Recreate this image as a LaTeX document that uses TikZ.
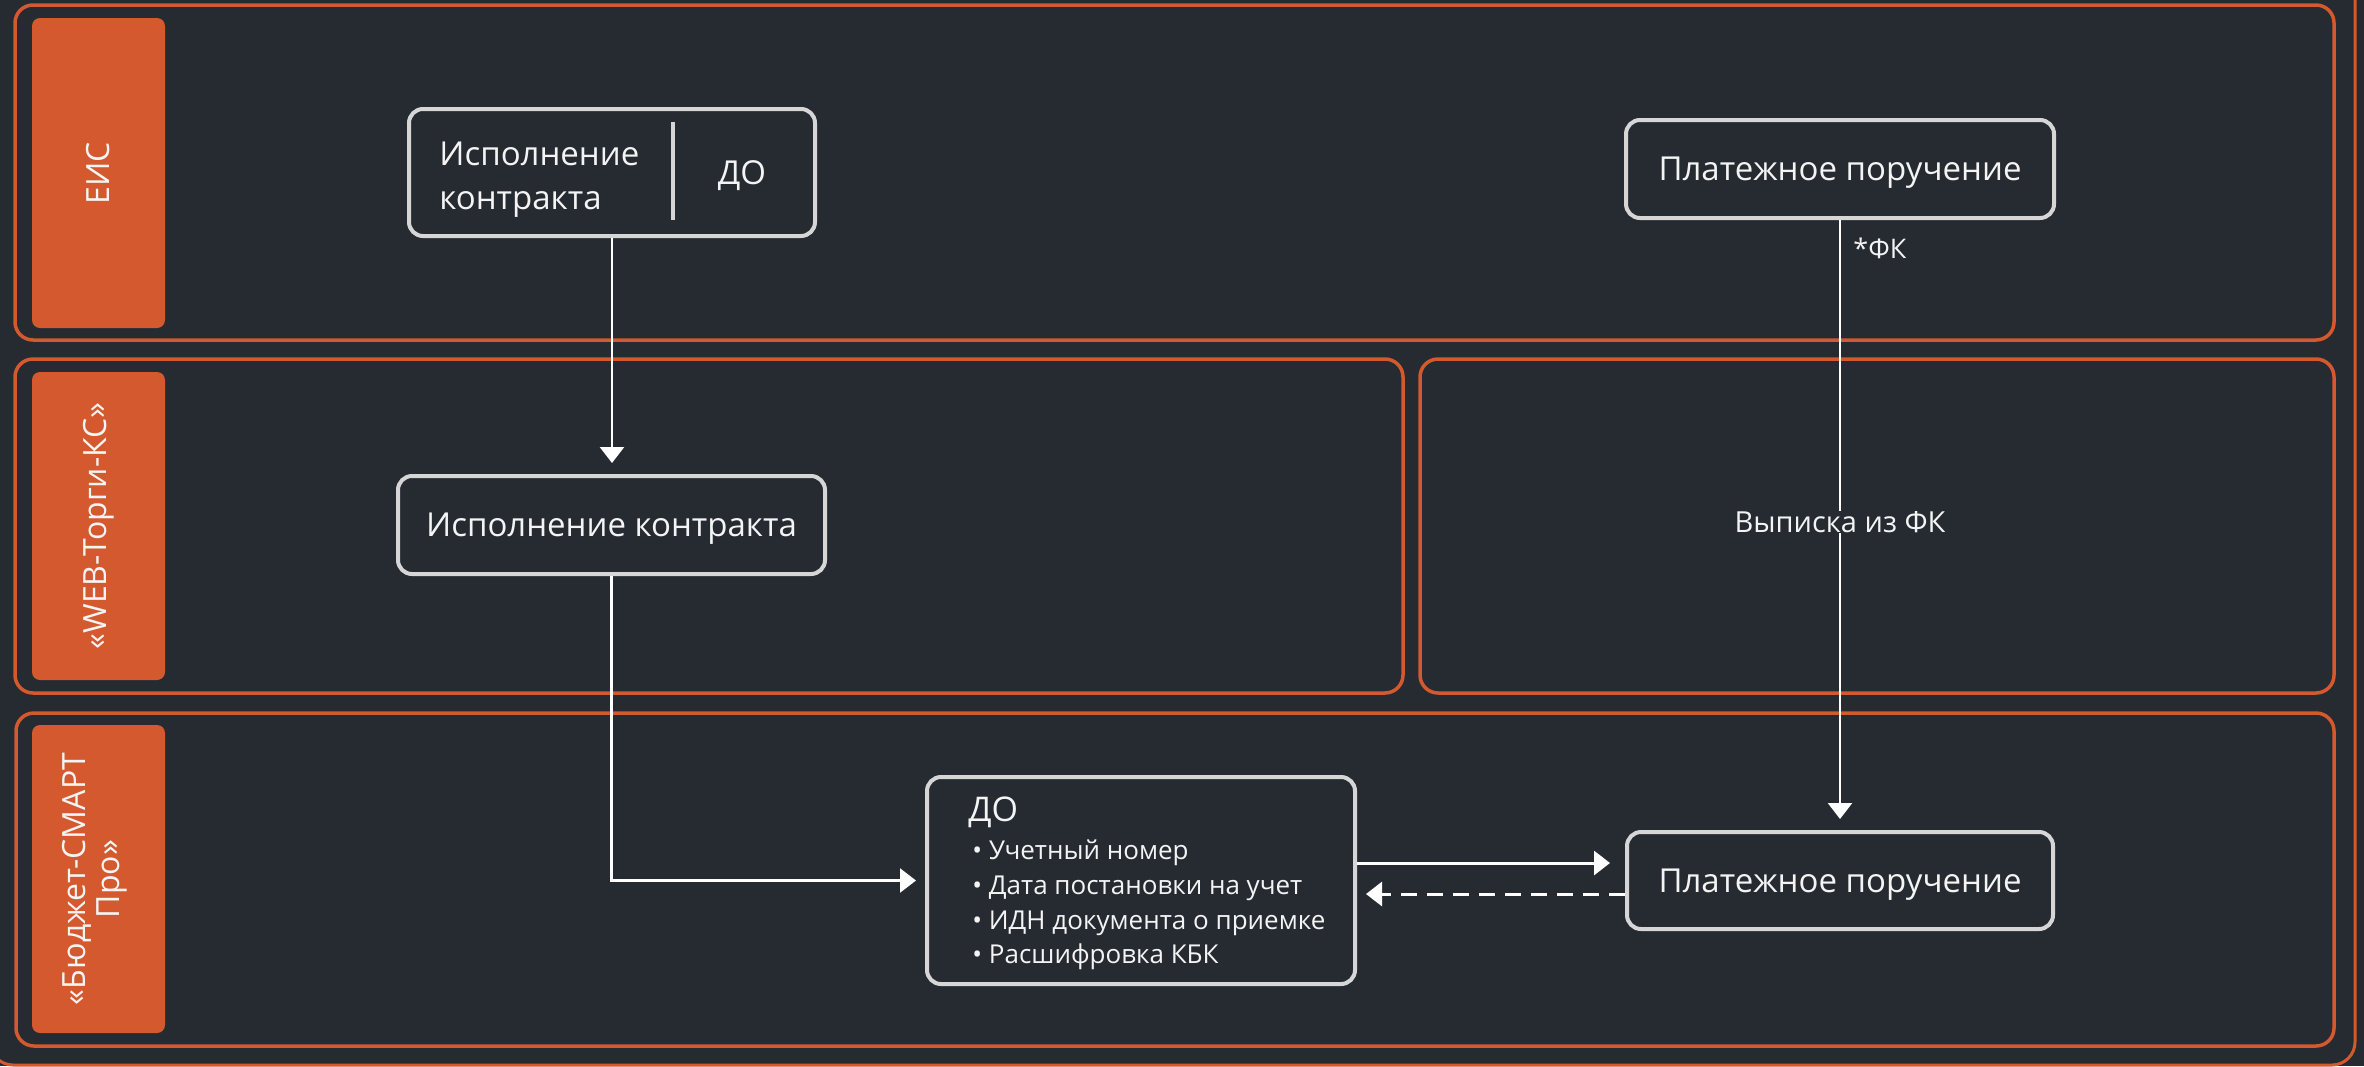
\documentclass[tikz,border=0pt]{standalone}
\usepackage{fontspec}
\setmainfont{Open Sans}
\usetikzlibrary{arrows.meta,calc}
\definecolor{bg}{HTML}{252B31}
\definecolor{org}{HTML}{D4592E}
\definecolor{boxline}{HTML}{D6D6D6}
\definecolor{txt}{HTML}{F4F4F4}
\tikzset{
 lane/.style={draw=org, line width=1.75pt, rounded corners=9pt},
 lanelabel/.style={fill=org, rounded corners=4pt},
 labeltext/.style={text=txt, rotate=90, font=\fontsize{16}{17.25}\selectfont, align=center, inner sep=0pt},
 procbox/.style={draw=boxline, line width=2pt, rounded corners=7pt, text=txt, font=\fontsize{16.5}{22}\selectfont, inner sep=0pt, align=center, text depth=0pt},
 boxtext/.style={text=txt, font=\fontsize{16.5}{22}\selectfont, inner sep=0pt, align=left},
 bullettext/.style={text=txt, font=\fontsize{13}{15}\selectfont, inner sep=0pt, anchor=west},
 conn/.style={draw=white, line width=1.2pt},
 tip/.style={-{Triangle[width=12pt,length=8pt]}},
 edgelabel/.style={text=txt, font=\fontsize{14.5}{16}\selectfont, inner sep=1pt},
}
\begin{document}
\begin{tikzpicture}[x=0.5pt,y=-0.5pt]
\useasboundingbox (0,0) rectangle (2364,1066);
\fill[bg] (0,0) rectangle (2364,1066);
% outer frame
\draw[draw=org, line width=1.5pt, rounded corners=11.5pt] (-10,-30) rectangle (2355,1065);
% lanes
\draw[lane] (15,5) rectangle (2334,340);
\draw[lane] (15,359) rectangle (1403,693);
\draw[lane] (1420,359) rectangle (2334,693);
\draw[lane] (16,713) rectangle (2334,1046);
% lane labels
\fill[lanelabel] (32,18) rectangle (165,328);
\node[labeltext] (lbl-eis) at (98.5,173) {ЕИС};
\fill[lanelabel] (32,372) rectangle (165,680);
\node[labeltext] (lbl-web) at (98.5,526) {«WEB-Торги-КС»};
\fill[lanelabel] (32,725) rectangle (165,1033);
\node[labeltext] (lbl-bud) at (95,879) {«Бюджет-СМАРТ\\Про»};
% EIS box
\node[procbox, minimum width=203pt, minimum height=63.5pt] (eis) at (612,172.5) {};
\node[boxtext, anchor=west] (eis-t) at (439,180) {Исполнение\\контракта};
\node[boxtext, text depth=0pt] (eis-do) at (742,173) {ДО};
\draw[draw=boxline, line width=1.6pt] (673,122) -- (673,220);
% WEB box
\node[procbox, minimum width=213.5pt, minimum height=49pt] (web) at (611.5,525) {Исполнение контракта};
% DO box
\node[procbox, minimum width=214pt, minimum height=103.5pt] (do) at (1141,880.5) {};
\node[text=txt, font=\fontsize{17}{19}\selectfont, inner sep=0pt, anchor=west] (do-t) at (968,812) {ДО};
\node[bullettext] (do-b1) at (972,853) {• Учетный номер};
\node[bullettext] (do-b2) at (972,888) {• Дата постановки на учет};
\node[bullettext] (do-b3) at (972,923) {• ИДН документа о приемке};
\node[bullettext] (do-b4) at (972,957) {• Расшифровка КБК};
% payment order boxes
\node[procbox, minimum width=214pt, minimum height=49pt] (pp1) at (1840,169) {Платежное поручение};
\node[procbox, minimum width=213pt, minimum height=48.5pt] (pp2) at (1840,880.5) {Платежное поручение};
% connectors
\draw[conn, tip, shorten >=5.5pt] (eis.south) -- (eis.south |- web.north);
\draw[conn, tip, shorten >=4.5pt] (web.south) |- (do.west);
\draw[conn, tip, shorten >=5.5pt] (pp1.south) -- (pp2.north);
\draw[conn, line width=1.5pt, tip, shorten >=7.5pt] ([yshift=8.75pt]do.east) -- ([yshift=8.75pt]pp2.west);
\draw[conn, line width=1.5pt, tip, shorten >=4.5pt, dash pattern=on 8pt off 5pt] ([yshift=-6.75pt]pp2.west) -- ([yshift=-6.75pt]do.east);
% labels
\node[edgelabel, anchor=west, font=\fontsize{13.5}{15}\selectfont] (fk) at (1851,248) {*ФК};
\node[edgelabel, fill=bg, inner sep=0pt] (vyp) at (1840,522) {Выписка из ФК};
\end{tikzpicture}
\end{document}
